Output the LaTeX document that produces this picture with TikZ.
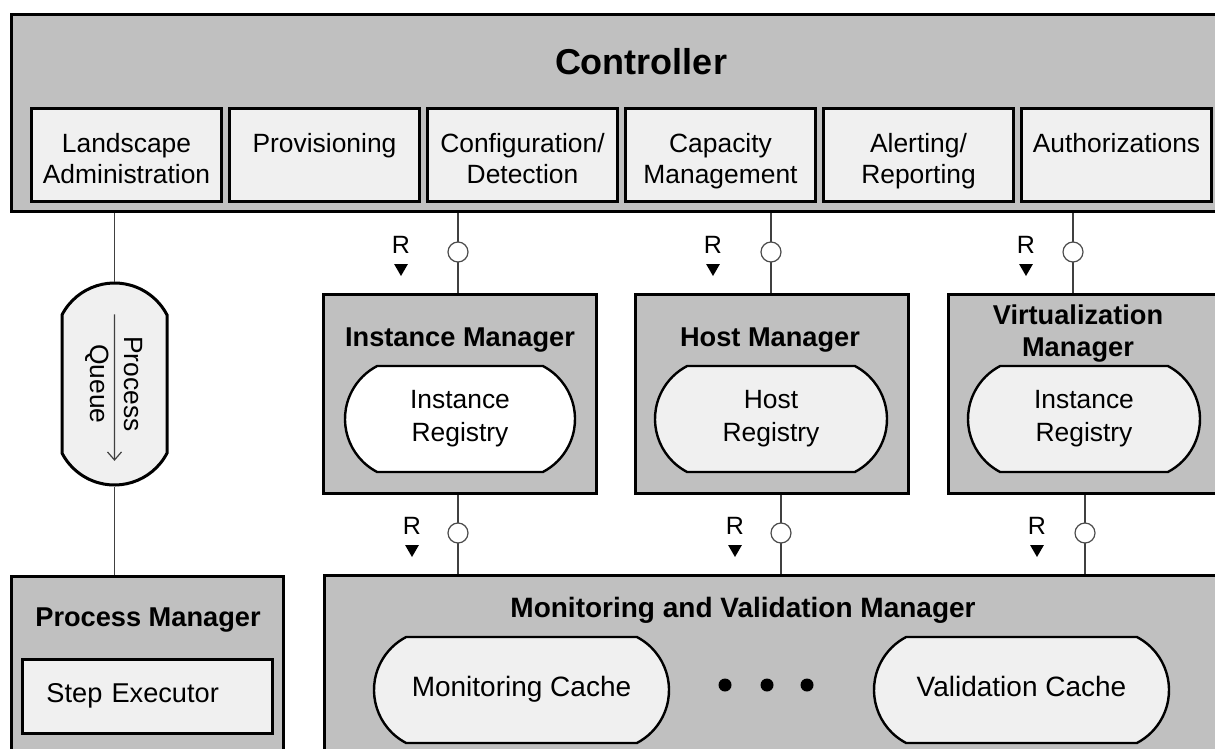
\documentclass[tikz,border=0pt]{standalone}
\usepackage{fontspec}
\setmainfont{Liberation Sans}
\usetikzlibrary{shapes.misc,shapes.geometric,calc,arrows.meta}
\definecolor{boxgray}{HTML}{C0C0C0}
\definecolor{paper}{HTML}{F0F0F0}
\newcommand{\tabtop}{\rule{0pt}{17.6pt}}

\begin{document}
\begin{tikzpicture}[x=0.5pt,y=-0.5pt,
  mgr/.style={draw=black,line width=1.5pt,fill=boxgray,anchor=north west,inner sep=0pt},
  tab/.style={draw=black,line width=1.5pt,fill=paper,anchor=north west,inner sep=0pt,minimum width=95pt,minimum height=46.5pt,align=center,font=\fontsize{13.2}{15.5}\selectfont},
  pill/.style={draw=black,line width=1.2pt,fill=paper,rounded rectangle,rounded rectangle arc length=125,inner sep=0pt,minimum height=53pt,align=center,font=\fontsize{13.2}{16.5}\selectfont},
  ttl/.style={font=\bfseries\fontsize{13.6}{16}\selectfont,align=center,inner sep=0pt},
  wire/.style={draw=black!75,line width=0.6pt},
  port/.style={circle,draw=black!70,fill=white,line width=0.6pt,minimum size=10pt,inner sep=0pt},
  req/.style={regular polygon,regular polygon sides=3,shape border rotate=180,fill=black,minimum size=8pt,inner sep=0pt},
  rlab/.style={font=\fontsize{12.5}{14}\selectfont,inner sep=0pt},
  dot/.style={circle,fill=black,minimum size=6.5pt,inner sep=0pt}]
\useasboundingbox (0,0) rectangle (1215,749);
\clip (0,0) rectangle (1215,749);

\node[mgr,minimum width=607.5pt,minimum height=98.5pt] (ctrl) at (10,13) {};
\node[ttl,font=\bfseries\fontsize{18}{20}\selectfont] (ctrlT) at (641,62) {Controller};
\node[tab] (land) at (30,107) {\tabtop Landscape\\Administration\strut};
\node[tab] (prov) at (228,107) {\tabtop Provisioning\\\strut};
\node[tab] (conf) at (426,107) {\tabtop Configuration/\\Detection\strut};
\node[tab] (cap) at (624,107) {\tabtop Capacity\\Management\strut};
\node[tab] (alert) at (822,107) {\tabtop Alerting/\\Reporting\strut};
\node[tab] (auth) at (1020,107) {\tabtop Authorizations\\\strut};

\node[mgr,minimum width=136.5pt,minimum height=99.5pt] (im) at (322,293) {};
\node[ttl] (imT) at (460,340) {Instance Manager};
\node[pill,fill=white,minimum width=115pt] (ireg) at (460,419) {Instance\\Registry};

\node[mgr,minimum width=136.5pt,minimum height=99.5pt] (hm) at (634,293) {};
\node[ttl] (hmT) at (770,340) {Host Manager};
\node[pill,minimum width=116pt] (hreg) at (771,419) {Host\\Registry};

\node[mgr,minimum width=141.5pt,minimum height=99.5pt] (vm) at (947,293) {};
\node[ttl] (vmT) at (1078,334) {Virtualization\\Manager};
\node[pill,minimum width=116pt] (vreg) at (1084,419) {Instance\\Registry};

\node[pill,rotate=-90,minimum width=101pt,minimum height=52.5pt,line width=1.5pt,font=\fontsize{13.2}{17}\selectfont] (queue) at (114.5,384) {Process\\Queue};
\draw[wire,-{Straight Barb[length=4pt,width=7pt]}] ($(queue.west)!0.16!(queue.east)$) -- ($(queue.west)!0.875!(queue.east)$);

\node[mgr,minimum width=136pt,minimum height=92.5pt] (pm) at (10,575) {};
\node[ttl] (pmT) at (148,620) {Process Manager};
\node[draw,line width=1.5pt,fill=paper,anchor=north west,inner xsep=12pt,inner ysep=0pt,text width=101pt,minimum height=37pt,align=left,font=\fontsize{13.6}{16}\selectfont] (step) at (21,658) {Step Executor\strut};

\node[mgr,minimum width=461pt,minimum height=92.5pt] (mvm) at (323,574) {};
\node[ttl,font=\bfseries\fontsize{14}{17}\selectfont] (mvmT) at (743,610) {Monitoring and Validation Manager};
\node[pill,minimum width=147.5pt,font=\fontsize{14}{17}\selectfont] (mcache) at (521.5,690) {Monitoring Cache\strut};
\node[pill,minimum width=147.5pt,font=\fontsize{14}{17}\selectfont] (vcache) at (1021.5,690) {Validation Cache\strut};
\node[dot] (d1) at (725,685) {};
\node[dot] (d2) at (767,685) {};
\node[dot] (d3) at (807,685) {};

\draw[wire] (queue.west) -- (queue.west |- ctrl.south);
\draw[wire] (queue.east) -- (queue.east |- pm.north);

\coordinate (u1) at (458,252);
\coordinate (u2) at (771,252);
\coordinate (u3) at (1073,252);
\coordinate (l1) at (458,533);
\coordinate (l2) at (781,533);
\coordinate (l3) at (1085,533);
\draw[wire] (u1 |- ctrl.south) -- (u1 |- im.north);
\draw[wire] (u2 |- ctrl.south) -- (u2 |- hm.north);
\draw[wire] (u3 |- ctrl.south) -- (u3 |- vm.north);
\draw[wire] (l1 |- im.south) -- (l1 |- mvm.north);
\draw[wire] (l2 |- hm.south) -- (l2 |- mvm.north);
\draw[wire] (l3 |- vm.south) -- (l3 |- mvm.north);
\node[port] (pu1) at (u1) {};
\node[port] (pu2) at (u2) {};
\node[port] (pu3) at (u3) {};
\node[port] (pl1) at (l1) {};
\node[port] (pl2) at (l2) {};
\node[port] (pl3) at (l3) {};

\node[rlab] (ru1) at (401,245) {R};
\node[req] (tu1) at (401,268) {};
\node[rlab] (ru2) at (713,245) {R};
\node[req] (tu2) at (713,268) {};
\node[rlab] (ru3) at (1026,245) {R};
\node[req] (tu3) at (1026,268) {};
\node[rlab] (rl1) at (412,526) {R};
\node[req] (tl1) at (412,549) {};
\node[rlab] (rl2) at (735,526) {R};
\node[req] (tl2) at (735,549) {};
\node[rlab] (rl3) at (1037,526) {R};
\node[req] (tl3) at (1037,549) {};
\end{tikzpicture}
\end{document}
